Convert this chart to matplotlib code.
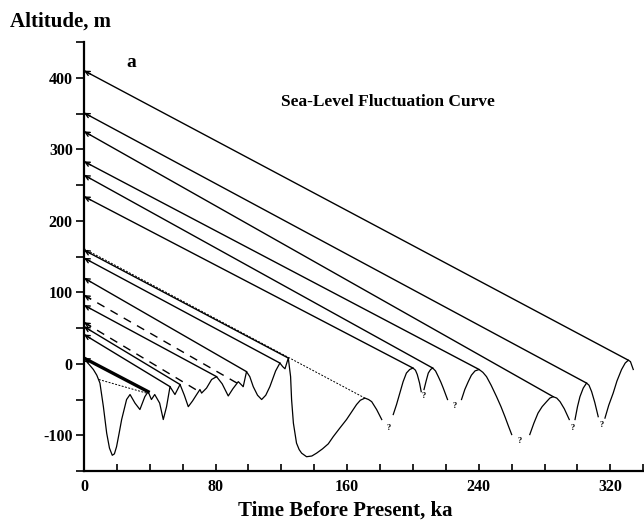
import matplotlib
matplotlib.use("Agg")
import matplotlib.pyplot as plt

plt.rcParams['font.family'] = ['Liberation Serif', 'DejaVu Serif']
plt.rcParams['font.weight'] = 'bold'

# sea-level curve, drawn as separate pieces (gaps marked with "?")
seg_t = [
    [0, 1.6, 3.5, 5.7, 7.8, 9.7, 11.8, 13.8, 15.5, 17.2, 18.5, 19.8, 21.3, 22.9, 25.9, 28, 31, 34,
     37, 39, 41, 43, 46, 48.2, 50.2, 52.3, 55.3, 58.4, 61, 63.4, 66, 68.5, 70.5, 71.5, 74.5, 77.6,
     80.6, 84, 87.7, 90.5, 93.8, 96.8, 98.8, 100.8, 102.9, 105.5, 108, 110.5, 113, 116.5, 119.1,
     120.8, 122.2, 124.2, 125.6, 126.2, 127.3, 129.2, 130.8, 132.3, 135.3, 138.5, 141.4, 145,
     148.5, 151.5, 155.5, 159.6, 165.7, 168, 170.8, 173, 174.9, 177.9, 181],
    [188, 190, 192, 194, 196, 198, 200, 201.5, 202.6, 204, 205],
    [206.7, 208, 209.3, 210.7, 212, 213.7, 215.4, 217, 218.4, 221],
    [229.5, 231.5, 233.6, 235.5, 237.7, 240.2, 242.5, 244.7, 247.5, 250.8, 253.5, 255.9, 258, 260],
    [271, 273.5, 276, 278.5, 281.2, 283.2, 285.2, 287.4, 289.4, 292, 295],
    [298.5, 300, 301.5, 303.5, 305.5, 307, 308.6, 310.5, 312.6],
    [316.7, 319, 321.7, 324, 326.8, 329, 330.9, 332.2, 333.9],
]
seg_m = [
    [4, 3, -2, -8, -16, -27, -60, -97, -118, -128, -126, -116, -98, -78, -50, -43, -55, -64,
     -46, -39, -50, -43, -55, -78, -60, -32, -43, -29, -44, -60, -52, -43, -36, -41, -34, -22,
     -18, -28, -45, -35, -25, -32, -11, -18, -32, -44, -50, -44, -32, -10, 1,
     -4, -7, 8, -18, -50, -83, -111, -120, -125, -130, -129, -125, -119,
     -112, -102, -90, -78, -57, -51, -48, -50, -53, -64, -78],
    [-71, -57, -41, -25, -13, -8, -6, -9, -15, -27, -39],
    [-36, -24, -13, -8, -6, -10, -18, -26, -34, -50],
    [-50, -36, -25, -16, -10, -8, -12, -18, -30, -46, -60, -74, -87, -99],
    [-99, -83, -69, -60, -53, -48, -46, -48, -53, -63, -78],
    [-78, -60, -46, -34, -27, -30, -39, -54, -74],
    [-76, -58, -41, -24, -8, 1, 5, 3, -8],
]

# "?" marks at the gaps
q_t = [185, 206.3, 225.5, 265, 296.8, 314.6]
q_m = [-90, -45, -59, -108, -90, -85]

# terrace lines: altitude at t=0 and the peak they belong to
solid_z0 = [410, 351, 325, 283, 264, 234, 159, 148, 120, 82, 52, 41]
solid_t1 = [330.9, 305.5, 285.2, 240.2, 212, 200, 124.2, 119.1, 98.8, 80.6, 58.4, 52.3]
solid_m1 = [5, -27, -46, -8, -6, -6, 8, 1, -11, -18, -29, -32]

dashed_z0 = [96, 58]
dashed_t1 = [96.8, 71.5]
dashed_m1 = [-32, -41]

thick_z0, thick_t1, thick_m1 = 8, 39, -39

dotted_t = [[0, 170.8], [9, 38]]
dotted_m = [[161, -48], [-22, -41]]

xticks = list(range(0, 341, 20))
xlabels = ['0', '', '', '', '80', '', '', '', '160', '', '', '', '240', '', '', '', '320', '', '']
yticks = list(range(-150, 451, 50))
ylabels = ['', '-100', '', '0', '', '100', '', '200', '', '300', '', '400', '']

fig = plt.figure(figsize=(6.44, 5.24), dpi=100)
ax = fig.add_axes([0.1304, 0.1011, 0.8685, 0.8187])

for t, m in zip(seg_t, seg_m):
    ax.plot(t, m, color='black', lw=0.9)

for t, m in zip(q_t, q_m):
    ax.text(t, m, '?', fontsize=6, ha='center', va='center')

def terrace(z0, t1, m1, **kw):
    ax.plot([0, t1], [z0, m1], color='black', **kw)
    # little open arrowhead at the axis
    ax.annotate('', xy=(0, z0), xytext=(4, z0 - (z0 - m1) / t1 * 4),
                arrowprops=dict(arrowstyle='->', color='black', lw=1.0,
                                mutation_scale=8, shrinkA=0, shrinkB=0))

for z0, t1, m1 in zip(solid_z0, solid_t1, solid_m1):
    terrace(z0, t1, m1, lw=1.0)
for z0, t1, m1 in zip(dashed_z0, dashed_t1, dashed_m1):
    terrace(z0, t1, m1, lw=1.0, ls=(0, (6, 5)))
terrace(thick_z0, thick_t1, thick_m1, lw=2.4)

for t, m in zip(dotted_t, dotted_m):
    ax.plot(t, m, color='black', lw=0.7, ls=(0, (2, 1.5)))

ax.set_xlim(0, 340)
ax.set_ylim(-150, 450)
ax.set_xticks(xticks)
ax.set_xticklabels(xlabels[:len(xticks)])
ax.set_yticks(yticks)
ax.set_yticklabels(ylabels)
ax.tick_params(axis='x', direction='in', length=5, width=1.2, labelsize=11.5, pad=6)
ax.tick_params(axis='y', direction='out', length=6, width=1.2, labelsize=11.5, pad=2)
for lab in ax.get_xticklabels() + ax.get_yticklabels():
    lab.set_fontweight('bold')

ax.spines['top'].set_visible(False)
ax.spines['right'].set_visible(False)
ax.spines['left'].set_linewidth(1.6)
ax.spines['bottom'].set_linewidth(1.6)

ax.text(29, 421, 'a', fontsize=14, fontweight='bold', ha='center', va='center')
ax.text(185, 366, 'Sea-Level Fluctuation Curve', fontsize=12.5, fontweight='bold',
        ha='center', va='center')

fig.text(10 / 644, 1 - 22 / 524, 'Altitude, m', fontsize=15, fontweight='bold',
         ha='left', va='center')
fig.text(345 / 644, 1 - 511 / 524, 'Time Before Present, ka', fontsize=15,
         fontweight='bold', ha='center', va='center')

fig.savefig('out.png', dpi=100)
